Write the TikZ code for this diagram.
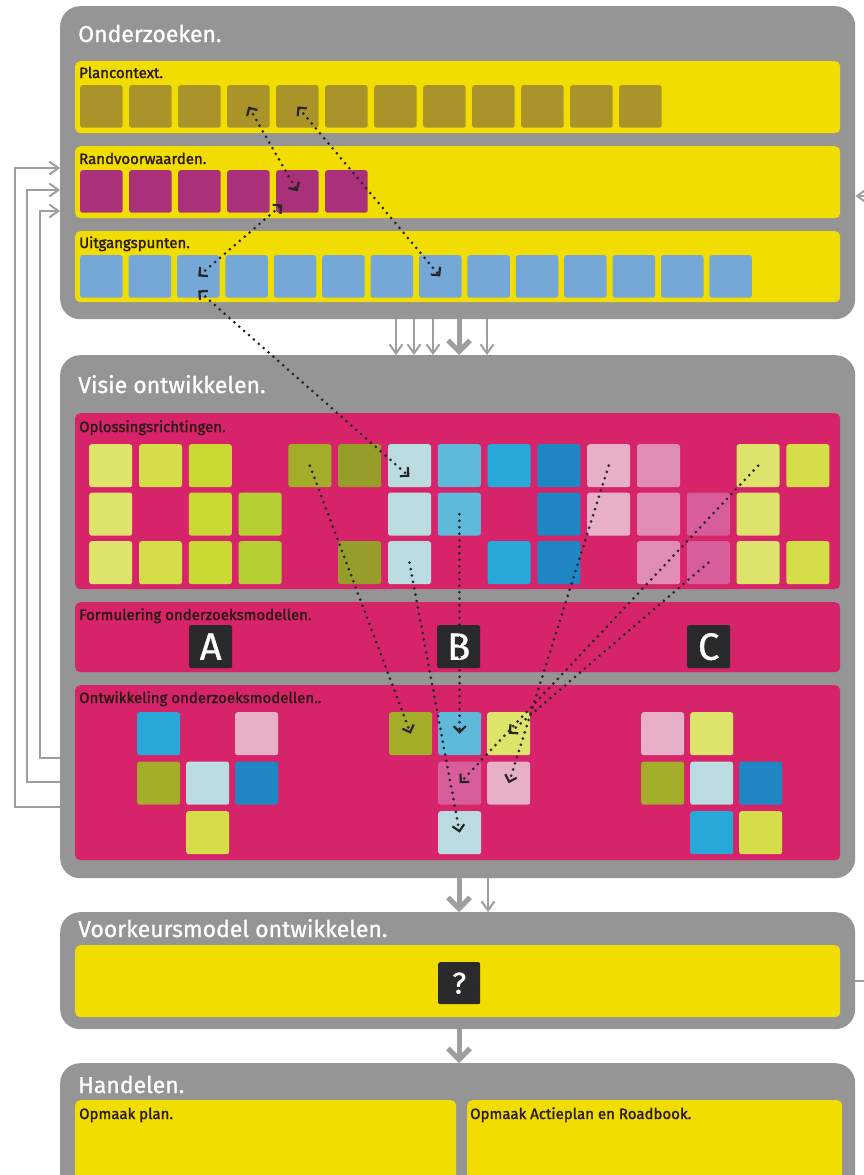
\documentclass[tikz,border=0pt]{standalone}
\usepackage{fontspec}
\setmainfont{Fira Sans}
\newfontfamily\kopfont{Fira Sans}[FakeBold=1]
\newfontfamily\subfont{Fira Sans}[FakeBold=1.6]
\usetikzlibrary{arrows.meta}

\definecolor{boxgray}{HTML}{959595}
\definecolor{linegray}{HTML}{9E9E9E}
\definecolor{geel}{HTML}{F1DE00}
\definecolor{roze}{HTML}{D6236A}
\definecolor{donker}{HTML}{2A2A2C}
\definecolor{tekst}{HTML}{2B1A14}
\definecolor{oker}{HTML}{AA9329}
\definecolor{paars}{HTML}{AA3179}
\definecolor{lblauw}{HTML}{75A8D6}
\definecolor{gra}{HTML}{DDE36B}
\definecolor{grb}{HTML}{D5DE48}
\definecolor{grc}{HTML}{C9D833}
\definecolor{grd}{HTML}{B6D034}
\definecolor{ola}{HTML}{A3AD2A}
\definecolor{olb}{HTML}{969E29}
\definecolor{ijs}{HTML}{BADCE1}
\definecolor{hemel}{HTML}{5EB9DB}
\definecolor{cyaan}{HTML}{27A8D9}
\definecolor{dblauw}{HTML}{1E87C3}
\definecolor{lroze}{HTML}{E8B0C8}
\definecolor{mroze}{HTML}{E08CB4}
\definecolor{mauve}{HTML}{D75E9B}

\begin{document}
\begin{tikzpicture}[x=1pt, y=-1pt,
    box/.style={fill=boxgray, rounded corners=20pt, anchor=north west, inner sep=0pt},
    band/.style={rounded corners=5pt, anchor=north west, inner sep=0pt},
    kop/.style={anchor=base west, inner sep=0pt, text=white, font=\kopfont\fontsize{23}{26}\selectfont},
    sub/.style={anchor=base west, inner sep=0pt, text=tekst, font=\subfont\fontsize{15}{17}\selectfont},
    sq/.style={rounded corners=2.5pt, anchor=north west, inner sep=0pt, minimum size=42.5pt},
    blok/.style={fill=donker, rounded corners=2pt, anchor=north west, minimum size=43pt, inner sep=0pt, text=white, font=\kopfont\fontsize{38}{38}\selectfont},
    link/.style={draw=black!85, line width=3pt, line cap=round, dash pattern=on 0pt off 6.5pt, >={Straight Barb[length=6pt,width=12pt,line width=2.2pt]}},
    pijl/.style={draw=linegray, line width=2pt, -{Straight Barb[length=9pt,width=13pt,line width=2pt]}},
    dikpijl/.style={draw=linegray, line width=5pt, -{Straight Barb[length=11pt,width=22pt,line width=5pt]}}]
    \fill[white] (0,0) rectangle (863,1175);
    \useasboundingbox (0,0) rectangle (863,1175);

    % Onderzoeken
    \node[box, minimum width=795pt, minimum height=313pt] (onderzoeken) at (60,6) {};
    \node[kop] at (78,42) {Onderzoeken.};
    \node[band, fill=geel, minimum width=765pt, minimum height=72pt] (plan) at (75,61) {};
    \node[sub] at (79,78) {Plancontext.};
    \foreach \i in {0,...,11} \node[sq, fill=oker] (pc\i) at ({80+49*\i},85) {};
    \node[band, fill=geel, minimum width=765pt, minimum height=72pt] (rand) at (75,146) {};
    \node[sub] at (79,164) {Randvoorwaarden.};
    \foreach \i in {0,...,5} \node[sq, fill=paars] (rv\i) at ({80+49*\i},170) {};
    \node[band, fill=geel, minimum width=765pt, minimum height=71pt] (uitg) at (75,231) {};
    \node[sub] at (79,248) {Uitgangspunten.};
    \foreach \i in {0,...,13} \node[sq, fill=lblauw] (ut\i) at ({80+48.4*\i},255) {};

    % Visie ontwikkelen
    \node[box, minimum width=795pt, minimum height=523pt] (visie) at (60,355) {};
    \node[kop] at (78,393) {Visie ontwikkelen.};
    \node[band, fill=roze, minimum width=765pt, minimum height=176pt] (oplos) at (75,413) {};
    \node[sub] at (79,432) {Oplossingsrichtingen.};
    \foreach \r/\c/\k in {0/0/gra, 0/1/grb, 0/2/grc, 0/4/ola, 0/5/olb, 0/6/ijs, 0/7/hemel, 0/8/cyaan,
        0/9/dblauw, 0/10/lroze, 0/11/mroze, 0/13/gra, 0/14/grb,
        1/0/gra, 1/2/grc, 1/3/grd, 1/6/ijs, 1/7/hemel, 1/9/dblauw, 1/10/lroze, 1/11/mroze, 1/12/mauve, 1/13/gra,
        2/0/gra, 2/1/grb, 2/2/grc, 2/3/grd, 2/5/olb, 2/6/ijs, 2/8/cyaan, 2/9/dblauw, 2/11/mroze,
        2/12/mauve, 2/13/gra, 2/14/grb}
        \node[sq, minimum size=43pt, fill=\k] (os\r-\c) at ({89+49.8*\c},{444+48.5*\r}) {};
    \node[band, fill=roze, minimum width=765pt, minimum height=70pt] (form) at (75,602) {};
    \node[sub] at (79,620) {Formulering onderzoeksmodellen.};
    \node[blok] (ma) at (189,625) {A};
    \node[blok] (mb) at (437,625) {B};
    \node[blok] (mc) at (687,625) {C};
    \node[band, fill=roze, minimum width=765pt, minimum height=175pt] (ontw) at (75,685) {};
    \node[sub] at (79,703) {Ontwikkeling onderzoeksmodellen..};
    \foreach \r/\c/\k in {0/0/cyaan, 0/2/lroze, 1/0/ola, 1/1/ijs, 1/2/dblauw, 2/1/grb}
        \node[sq, minimum size=43pt, fill=\k] (oa\r-\c) at ({137+49*\c},{712+49.5*\r}) {};
    \foreach \r/\c/\k in {0/0/ola, 0/1/hemel, 0/2/gra, 1/1/mauve, 1/2/lroze, 2/1/ijs}
        \node[sq, minimum size=43pt, fill=\k] (ob\r-\c) at ({389+49*\c},{712+49.5*\r}) {};
    \foreach \r/\c/\k in {0/0/lroze, 0/1/gra, 1/0/ola, 1/1/ijs, 1/2/dblauw, 2/1/cyaan, 2/2/grb}
        \node[sq, minimum size=43pt, fill=\k] (oc\r-\c) at ({641+49*\c},{712+49.5*\r}) {};

    % Voorkeursmodel
    \node[box, minimum width=795pt, minimum height=117pt] (voorkeur) at (60,912) {};
    \node[kop] at (78,937) {Voorkeursmodel ontwikkelen.};
    \node[band, fill=geel, minimum width=765pt, minimum height=72pt] (vm) at (75,945) {};
    \node[blok, minimum size=42pt, font=\kopfont\fontsize{30}{30}\selectfont] (vraag) at (438,962) {?};

    % Handelen
    \node[box, minimum width=795pt, minimum height=160pt] (handelen) at (60,1063) {};
    \node[kop] at (78,1093) {Handelen.};
    \node[band, fill=geel, minimum width=381pt, minimum height=100pt] (plan2) at (75,1100) {};
    \node[sub] at (79,1119) {Opmaak plan.};
    \node[band, fill=geel, minimum width=375pt, minimum height=100pt] (actie) at (467,1100) {};
    \node[sub] at (470,1119) {Opmaak Actieplan en Roadbook.};

    % gray arrows
    \foreach \x in {396,414,433,487}
        \draw[pijl] (onderzoeken.south -| \x,0) -- (visie.north -| \x,0);
    \draw[dikpijl] (onderzoeken.south -| 459,0) -- (visie.north -| 459,0);
    \draw[dikpijl] (visie.south -| 459,0) -- (voorkeur.north -| 459,0);
    \draw[pijl] (visie.south -| 488,0) -- (voorkeur.north -| 488,0);
    \draw[dikpijl] (voorkeur.south -| 459,0) -- (handelen.north -| 459,0);
    \draw[pijl] (visie.west |- 0,807) -| (15,168) -- (onderzoeken.west |- 0,168);
    \draw[pijl] (visie.west |- 0,782) -| (27,190) -- (onderzoeken.west |- 0,190);
    \draw[pijl] (visie.west |- 0,758) -| (40,211) -- (onderzoeken.west |- 0,211);
    \draw[pijl] (voorkeur.east |- 0,981) -| (880,196) -- (onderzoeken.east |- 0,196);

    % dotted links
    \draw[link, <->] (pc3.center) -- (rv4.center);
    \draw[link, <->, shorten >=20pt] (ut2.center) -- (rv4.center);
    \draw[link, <->] ([yshift=-14pt]ut2.center) -- ([yshift=-11pt]os0-6.center);
    \draw[link, <->] (pc4.center) -- (ut7.center);
    \draw[link, ->] (os0-4.center) -- (ob0-0.center);
    \draw[link, ->] (os2-6.center) -- (ob2-1.center);
    \draw[link, ->] (os1-7.center) -- (ob0-1.center);
    \draw[link, ->] (os0-10.center) -- (ob1-2.center);
    \draw[link, ->] (os0-13.center) -- (ob1-1.center);
    \draw[link, ->] (os2-12.center) -- (ob0-2.center);
\end{tikzpicture}
\end{document}
